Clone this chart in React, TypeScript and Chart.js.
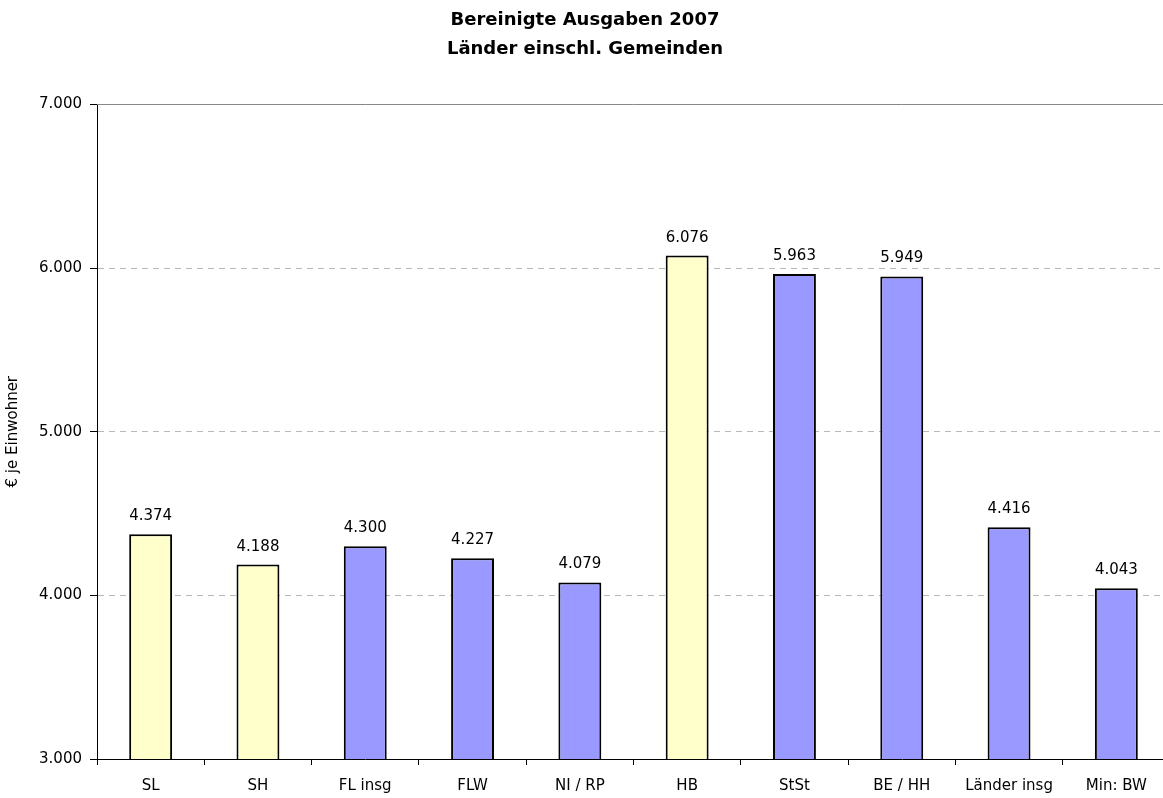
import React, { useEffect, useRef } from 'react';
import { Chart, registerables } from 'chart.js';

Chart.register(...registerables);

const titleLines = ['Bereinigte Ausgaben 2007', 'Länder einschl. Gemeinden'];
const yAxisTitle = '€ je Einwohner';
const categories = ['SL', 'SH', 'FL insg', 'FLW', 'NI / RP', 'HB', 'StSt', 'BE / HH', 'Länder insg', 'Min: BW'];
const values = [4374, 4188, 4300, 4227, 4079, 6076, 5963, 5949, 4416, 4043];
const highlightedCategories = ['SL', 'SH', 'HB'];
const yTicks = [3000, 4000, 5000, 6000, 7000];

const fmt = (v: number) => String(Math.round(v)).replace(/\B(?=(\d{3})+(?!\d))/g, '.');

const FONT = "'DejaVu Sans', Verdana, sans-serif";

const valueLabelPlugin = {
  id: 'valueLabels',
  afterDatasetsDraw(chart: any) {
    const ctx = chart.ctx;
    const meta = chart.getDatasetMeta(0);
    ctx.save();
    ctx.font = `15px ${FONT}`;
    ctx.fillStyle = '#000';
    ctx.textAlign = 'center';
    ctx.textBaseline = 'alphabetic';
    meta.data.forEach((bar: any, i: number) => {
      ctx.fillText(fmt(values[i]), bar.x, bar.y - 14);
    });
    ctx.restore();
  },
};

const topLinePlugin = {
  id: 'topLine',
  beforeDatasetsDraw(chart: any) {
    const { ctx, chartArea, scales } = chart;
    const y = Math.round(scales.y.getPixelForValue(yTicks[yTicks.length - 1])) + 0.5;
    ctx.save();
    ctx.strokeStyle = '#888888';
    ctx.lineWidth = 1;
    ctx.beginPath();
    ctx.moveTo(chartArea.left, y);
    ctx.lineTo(chartArea.right, y);
    ctx.stroke();
    ctx.restore();
  },
};

export default function App() {
  const ref = useRef<HTMLCanvasElement | null>(null);

  useEffect(() => {
    if (!ref.current) return;
    Chart.defaults.font.family = FONT;
    Chart.defaults.color = '#000';
    const minY = yTicks[0];
    const maxY = yTicks[yTicks.length - 1];
    const chart = new Chart(ref.current, {
      type: 'bar',
      data: {
        labels: categories,
        datasets: [
          {
            data: values,
            backgroundColor: categories.map((c) => (highlightedCategories.includes(c) ? '#FFFFCC' : '#9999FF')),
            borderColor: '#000',
            borderWidth: 2,
            borderSkipped: false,
            barPercentage: 0.4,
            categoryPercentage: 1,
          },
        ],
      },
      options: {
        animation: false,
        responsive: false,
        devicePixelRatio: 1,
        layout: { padding: { left: 0, right: 20, top: 0, bottom: 0 } },
        plugins: {
          legend: { display: false },
          tooltip: { enabled: false },
          title: {
            display: true,
            text: titleLines,
            color: '#000',
            font: { size: 18, weight: 'bold', family: FONT, lineHeight: 1.65 },
            padding: { top: 5, bottom: 40 },
          },
        },
        scales: {
          x: {
            type: 'category',
            offset: true,
            grid: {
              display: true,
              offset: true,
              drawOnChartArea: false,
              drawTicks: true,
              tickLength: 6,
              tickColor: '#000',
            },
            border: { display: true, color: '#000', width: 1 },
            ticks: { font: { size: 15, family: FONT }, color: '#000', padding: 12, maxRotation: 0, autoSkip: false },
            afterFit: (s: any) => {
              s.height = 39;
            },
          },
          y: {
            min: minY,
            max: maxY,
            afterBuildTicks: (s: any) => {
              s.ticks = yTicks.map((v) => ({ value: v }));
            },
            grid: {
              color: (c: any) =>
                c.tick && (c.tick.value === minY || c.tick.value === maxY) ? 'rgba(0,0,0,0)' : '#b8b8b8',
              tickColor: '#000',
              tickLength: 7,
              lineWidth: 1,
            },
            border: { display: true, color: '#000', width: 1, dash: [6, 5] },
            ticks: {
              font: { size: 15, family: FONT },
              color: '#000',
              padding: 8,
              callback: (v: any) => fmt(Number(v)),
            },
            title: {
              display: true,
              text: yAxisTitle,
              color: '#000',
              font: { size: 15, family: FONT },
              padding: { top: 4, bottom: 0 },
            },
            afterFit: (s: any) => {
              s.width = 97;
            },
          },
        },
      },
      plugins: [valueLabelPlugin, topLinePlugin],
    } as any);
    return () => chart.destroy();
  }, []);

  return (
    <div
      style={{
        position: 'absolute',
        left: 0,
        top: 0,
        width: 1163,
        height: 798,
        overflow: 'hidden',
        background: '#fff',
      }}
    >
      <canvas ref={ref} width={1190} height={798} style={{ display: 'block' }} />
    </div>
  );
}
